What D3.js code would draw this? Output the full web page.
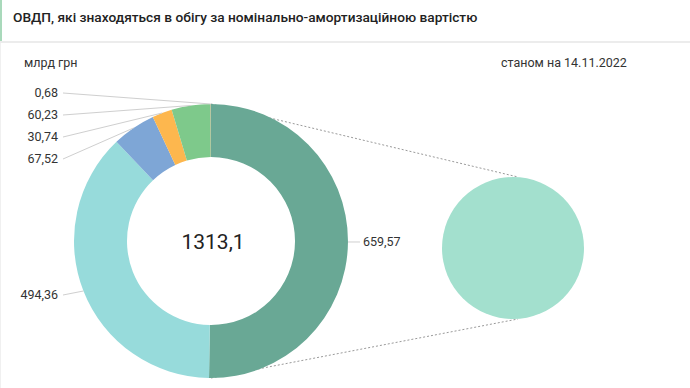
<!DOCTYPE html>
<html>
<head>
<meta charset="utf-8">
<script src="https://cdn.jsdelivr.net/npm/d3@7"></script>
<style>
  body { margin: 0; background: #fff; font-family: Roboto, "Noto Sans", sans-serif; }
  svg { display: block; }
</style>
</head>
<body>
<svg id="chart" width="690" height="388"></svg>
<script>
// values in billions UAH, clockwise from 12 o'clock
const values = [659.57, 494.36, 67.52, 30.74, 60.23, 0.68];
const colors = ["#69a895", "#97dbdb", "#7ea6d6", "#fdb74e", "#7ec98b", "#bfa57f"];
const detailValues = [0.68];
const detailColors = ["#a3e0ce"];
const title = "ОВДП, які знаходяться в обігу за номінально-амортизаційною вартістю";
const unitLabel = "млрд грн";
const dateLabel = "станом на 14.11.2022";

const width = 690, height = 388;
const cx = 211, cy = 241, rOuter = 137, rInner = 84;
const dcx = 513, dcy = 248, dr = 71;

const svg = d3.select("#chart");
const fmt = v => d3.format(".2f")(v).replace(".", ",");

// header
svg.append("rect").attr("x", 0).attr("y", 0).attr("width", width).attr("height", 41).attr("fill", "#fff");
svg.append("rect").attr("x", 0).attr("y", 0).attr("width", 2).attr("height", 41).attr("fill", "#a9d9bb");
svg.append("rect").attr("x", 0).attr("y", 41).attr("width", width).attr("height", 2).attr("fill", "#ececec");
svg.append("rect").attr("x", 0).attr("y", 43).attr("width", 1).attr("height", height - 43).attr("fill", "#f0f0f0");
svg.append("text").attr("x", 13).attr("y", 22).text(title)
  .style("font-size", "13.7px").style("font-weight", 500).attr("fill", "#222");

svg.append("text").attr("x", 24).attr("y", 67).text(unitLabel)
  .style("font-size", "12.5px").attr("fill", "#333");
svg.append("text").attr("x", 501).attr("y", 67).text(dateLabel)
  .style("font-size", "12.5px").attr("fill", "#333");

// connector lines (behind both pies)
const conn = svg.append("g").attr("stroke", "#9a9a9a").attr("stroke-width", 1).attr("stroke-dasharray", "2,2");
conn.append("line").attr("x1", cx).attr("y1", cy - rOuter).attr("x2", dcx + 5).attr("y2", dcy - dr);
conn.append("line").attr("x1", cx).attr("y1", cy + rOuter).attr("x2", dcx + 5).attr("y2", dcy + dr);

// main donut
const pie = d3.pie().sort(null).value(d => d);
const arcs = pie(values);
const arc = d3.arc().innerRadius(rInner).outerRadius(rOuter);

const g = svg.append("g").attr("transform", `translate(${cx},${cy})`);
g.selectAll("path").data(arcs).join("path")
  .attr("d", arc)
  .attr("fill", (d, i) => colors[i]);

g.append("text").attr("x", 2).attr("y", 8).attr("text-anchor", "middle")
  .text(d3.format(".1f")(d3.sum(values)).replace(".", ","))
  .style("font-size", "21px").attr("fill", "#222");

// labels
const labelR = 148, gap = 22;
const items = arcs.map((d, i) => {
  const a = (d.startAngle + d.endAngle) / 2;
  return {
    value: d.data, a,
    ex: cx + rOuter * Math.sin(a), ey: cy - rOuter * Math.cos(a),
    y: cy - labelR * Math.cos(a),
    left: Math.sin(a) < 0
  };
});
const leftItems = items.filter(d => d.left).sort((a, b) => a.y - b.y);
leftItems.forEach((d, i) => { if (i > 0) d.y = Math.max(d.y, leftItems[i - 1].y + gap); });

const lab = svg.append("g");
items.forEach(d => {
  if (d.left) {
    lab.append("line").attr("x1", 63).attr("y1", d.y).attr("x2", d.ex).attr("y2", d.ey)
      .attr("stroke", "#cfcfcf").attr("stroke-width", 1);
    lab.append("text").attr("x", 58).attr("y", d.y).attr("dy", "0.35em")
      .attr("text-anchor", "end").text(fmt(d.value))
      .style("font-size", "12.5px").attr("fill", "#333");
  } else {
    lab.append("line").attr("x1", d.ex).attr("y1", d.ey).attr("x2", d.ex + 12).attr("y2", d.ey)
      .attr("stroke", "#cfcfcf").attr("stroke-width", 1);
    lab.append("text").attr("x", d.ex + 15).attr("y", d.ey).attr("dy", "0.35em")
      .text(fmt(d.value))
      .style("font-size", "12.5px").attr("fill", "#333");
  }
});

// detail pie
const dg = svg.append("g").attr("transform", `translate(${dcx},${dcy})`);
dg.selectAll("path").data(pie(detailValues)).join("path")
  .attr("d", d3.arc().innerRadius(0).outerRadius(dr))
  .attr("fill", (d, i) => detailColors[i]);
</script>
</body>
</html>
